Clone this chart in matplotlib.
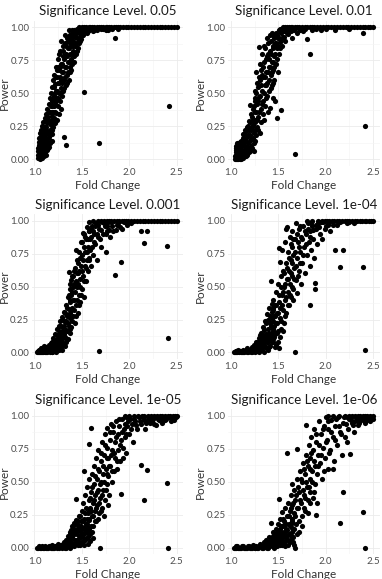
import numpy as np
import matplotlib.pyplot as plt

# power of the test vs fold change, one panel per significance level
levels = ["0.05", "0.01", "0.001", "1e-04", "1e-05", "1e-06"]

fc_05 = [1.04, 1.04, 1.05, 1.05, 1.05, 1.06, 1.06, 1.06, 1.07, 1.07, 1.07, 1.07, 1.08, 1.08, 1.08, 1.08,
         1.09, 1.09, 1.09, 1.09, 1.10, 1.10, 1.10, 1.10, 1.11, 1.11, 1.11, 1.12, 1.12, 1.12, 1.12, 1.13,
         1.13, 1.13, 1.13, 1.14, 1.14, 1.14, 1.15, 1.15, 1.15, 1.15, 1.16, 1.16, 1.16, 1.17, 1.17, 1.17,
         1.18, 1.18, 1.18, 1.19, 1.19, 1.19, 1.20, 1.20, 1.20, 1.21, 1.21, 1.21, 1.22, 1.22, 1.22, 1.23,
         1.23, 1.23, 1.24, 1.24, 1.24, 1.25, 1.25, 1.25, 1.26, 1.26, 1.26, 1.27, 1.27, 1.27, 1.28, 1.28,
         1.28, 1.29, 1.29, 1.30, 1.30, 1.30, 1.31, 1.31, 1.32, 1.32, 1.33, 1.33, 1.33, 1.34, 1.34, 1.35,
         1.35, 1.36, 1.36, 1.37, 1.37, 1.38, 1.38, 1.39, 1.39, 1.40, 1.40, 1.41, 1.41, 1.42, 1.42, 1.43,
         1.43, 1.44, 1.44, 1.45, 1.45, 1.46, 1.47, 1.47, 1.48, 1.49, 1.50, 1.51, 1.52, 1.53, 1.55, 1.58,
         1.60, 1.62, 1.66, 1.68, 1.72, 1.78, 1.85, 1.88, 2.42]
pw_05 = [0.01, 0.06, 0.02, 0.09, 0.13, 0.00, 0.05, 0.16, 0.03, 0.10, 0.19, 0.22, 0.01, 0.07, 0.13, 0.25,
         0.04, 0.10, 0.16, 0.28, 0.02, 0.08, 0.14, 0.21, 0.05, 0.18, 0.31, 0.03, 0.11, 0.24, 0.34, 0.07,
         0.15, 0.27, 0.38, 0.12, 0.20, 0.32, 0.09, 0.17, 0.29, 0.42, 0.22, 0.36, 0.46, 0.14, 0.26, 0.50,
         0.19, 0.33, 0.44, 0.28, 0.40, 0.55, 0.24, 0.36, 0.60, 0.31, 0.48, 0.64, 0.27, 0.42, 0.57, 0.35,
         0.52, 0.70, 0.30, 0.46, 0.62, 0.40, 0.58, 0.76, 0.34, 0.50, 0.68, 0.44, 0.62, 0.82, 0.38, 0.54,
         0.72, 0.48, 0.66, 0.52, 0.78, 0.86, 0.17, 0.60, 0.70, 0.88, 0.11, 0.56, 0.80, 0.64, 0.92, 0.74,
         0.84, 0.60, 0.90, 0.70, 0.80, 0.66, 0.94, 0.76, 0.86, 0.72, 0.96, 0.82, 0.90, 0.78, 0.98, 0.86,
         0.93, 0.80, 0.96, 0.88, 0.99, 0.84, 0.92, 0.98, 0.90, 0.96, 0.94, 0.99, 0.51, 0.97, 0.96, 0.98,
         0.99, 0.97, 0.98, 0.12, 0.99, 0.98, 0.92, 0.99, 0.40]
more_05 = [(1.04, 0.03), (1.04, 0.08), (1.05, 0.11), (1.05, 0.16), (1.06, 0.03), (1.06, 0.12), (1.06, 0.20),
           (1.07, 0.06), (1.07, 0.14), (1.08, 0.04), (1.08, 0.10), (1.08, 0.17), (1.09, 0.07), (1.09, 0.20),
           (1.09, 0.24), (1.10, 0.05), (1.10, 0.12), (1.10, 0.18), (1.11, 0.08), (1.11, 0.14), (1.11, 0.24),
           (1.12, 0.15), (1.12, 0.30), (1.13, 0.12), (1.13, 0.21), (1.14, 0.08), (1.14, 0.28), (1.15, 0.20),
           (1.15, 0.36), (1.16, 0.12), (1.16, 0.28), (1.17, 0.20), (1.17, 0.40), (1.18, 0.14), (1.18, 0.30),
           (1.19, 0.22), (1.19, 0.36), (1.20, 0.46), (1.20, 0.30), (1.21, 0.40), (1.21, 0.55), (1.22, 0.36),
           (1.22, 0.50), (1.23, 0.44), (1.23, 0.62), (1.24, 0.52), (1.24, 0.68), (1.25, 0.46), (1.25, 0.70),
           (1.26, 0.58), (1.26, 0.80), (1.27, 0.50), (1.27, 0.70), (1.28, 0.60), (1.28, 0.90), (1.29, 0.58),
           (1.29, 0.72), (1.30, 0.66), (1.30, 0.82), (1.31, 0.54), (1.31, 0.76), (1.32, 0.62), (1.32, 0.94),
           (1.33, 0.70), (1.33, 0.86), (1.34, 0.78), (1.34, 0.58), (1.35, 0.66), (1.35, 0.90), (1.36, 0.84),
           (1.36, 0.98), (1.37, 0.74), (1.37, 0.94), (1.38, 0.88), (1.39, 0.92), (1.39, 0.68), (1.40, 0.80),
           (1.40, 0.98), (1.41, 0.86), (1.42, 0.94), (1.42, 0.74), (1.43, 0.88), (1.44, 0.96), (1.45, 0.82),
           (1.45, 0.92), (1.46, 0.98), (1.47, 0.88), (1.48, 0.95), (1.49, 0.91), (1.50, 0.98), (1.51, 0.94),
           (1.52, 0.97), (1.54, 0.99), (1.56, 0.97), (1.59, 0.99), (1.63, 0.98), (1.70, 0.99), (1.75, 0.98),
           (1.82, 0.99)]
sat_05 = [1.47, 1.50, 1.52, 1.54, 1.57, 1.59, 1.61, 1.63, 1.66, 1.68, 1.70, 1.72, 1.75, 1.77, 1.79, 1.81,
          1.84, 1.86, 1.88, 1.90, 1.93, 1.96, 1.99, 2.02, 2.05, 2.08, 2.11, 2.14, 2.17, 2.20, 2.23, 2.26,
          2.29, 2.32, 2.35, 2.38, 2.41, 2.44, 2.47, 2.50]

fc_01 = [1.04, 1.05, 1.05, 1.06, 1.06, 1.07, 1.07, 1.08, 1.08, 1.09, 1.09, 1.10, 1.10, 1.11, 1.11, 1.12,
         1.12, 1.13, 1.13, 1.14, 1.14, 1.15, 1.15, 1.16, 1.16, 1.17, 1.17, 1.18, 1.18, 1.19, 1.19, 1.20,
         1.20, 1.21, 1.21, 1.22, 1.22, 1.23, 1.23, 1.24, 1.24, 1.25, 1.25, 1.26, 1.26, 1.27, 1.27, 1.28,
         1.28, 1.29, 1.29, 1.30, 1.30, 1.31, 1.31, 1.32, 1.32, 1.33, 1.33, 1.34, 1.34, 1.35, 1.35, 1.36,
         1.36, 1.37, 1.37, 1.38, 1.38, 1.39, 1.39, 1.40, 1.40, 1.41, 1.41, 1.42, 1.42, 1.43, 1.43, 1.44,
         1.44, 1.45, 1.45, 1.46, 1.46, 1.47, 1.47, 1.48, 1.48, 1.49, 1.49, 1.50, 1.50, 1.51, 1.51, 1.52,
         1.53, 1.53, 1.54, 1.55, 1.55, 1.56, 1.57, 1.58, 1.60, 1.62, 1.64, 1.66, 1.68, 1.70, 1.73, 1.76,
         1.80, 1.84, 1.86, 1.90, 1.95, 2.00, 2.10, 2.25, 2.39, 2.41]
pw_01 = [0.00, 0.02, 0.05, 0.01, 0.07, 0.00, 0.04, 0.09, 0.02, 0.06, 0.12, 0.00, 0.08, 0.03, 0.14, 0.10,
         0.05, 0.16, 0.01, 0.11, 0.19, 0.06, 0.14, 0.21, 0.02, 0.09, 0.17, 0.25, 0.12, 0.05, 0.29, 0.18,
         0.41, 0.22, 0.10, 0.32, 0.15, 0.26, 0.38, 0.20, 0.06, 0.44, 0.30, 0.14, 0.36, 0.50, 0.66, 0.24,
         0.42, 0.55, 0.32, 0.47, 0.85, 0.60, 0.20, 0.38, 0.68, 0.52, 0.80, 0.44, 0.62, 0.74, 0.30, 0.56,
         0.84, 0.66, 0.46, 0.78, 0.58, 0.88, 0.36, 0.70, 0.52, 0.39, 0.82, 0.64, 0.90, 0.74, 0.56, 0.86,
         0.46, 0.68, 0.94, 0.78, 0.60, 0.44, 0.88, 0.72, 0.96, 0.31, 0.84, 0.66, 0.92, 0.98, 0.80, 0.89,
         0.37, 0.96, 0.86, 0.99, 0.93, 0.97, 0.90, 0.99, 0.95, 0.98, 0.92, 0.99, 0.04, 0.96, 0.98, 0.97,
         0.91, 0.80, 0.98, 0.99, 0.98, 0.99, 0.98, 0.99, 0.96, 0.25]
more_01 = [(1.04, 0.02), (1.05, 0.00), (1.05, 0.08), (1.06, 0.03), (1.06, 0.10), (1.07, 0.06), (1.07, 0.12),
           (1.08, 0.00), (1.08, 0.05), (1.09, 0.02), (1.09, 0.09), (1.10, 0.04), (1.10, 0.13), (1.11, 0.00),
           (1.11, 0.07), (1.12, 0.02), (1.12, 0.12), (1.13, 0.06), (1.13, 0.19), (1.14, 0.03), (1.14, 0.14),
           (1.15, 0.09), (1.15, 0.22), (1.16, 0.06), (1.16, 0.14), (1.17, 0.03), (1.17, 0.24), (1.18, 0.08),
           (1.18, 0.18), (1.19, 0.13), (1.19, 0.22), (1.20, 0.06), (1.20, 0.28), (1.21, 0.15), (1.21, 0.34),
           (1.22, 0.08), (1.22, 0.24), (1.23, 0.16), (1.23, 0.30), (1.24, 0.12), (1.24, 0.40), (1.25, 0.22),
           (1.25, 0.52), (1.26, 0.28), (1.26, 0.46), (1.27, 0.18), (1.27, 0.36), (1.28, 0.30), (1.28, 0.58),
           (1.29, 0.22), (1.29, 0.44), (1.30, 0.36), (1.30, 0.62), (1.31, 0.48), (1.31, 0.72), (1.32, 0.28),
           (1.32, 0.56), (1.33, 0.42), (1.33, 0.64), (1.34, 0.70), (1.34, 0.34), (1.35, 0.50), (1.35, 0.86),
           (1.36, 0.62), (1.36, 0.40), (1.37, 0.76), (1.37, 0.56), (1.38, 0.48), (1.38, 0.92), (1.39, 0.66),
           (1.39, 0.80), (1.40, 0.60), (1.40, 0.76), (1.41, 0.70), (1.41, 0.94), (1.42, 0.54), (1.42, 0.80),
           (1.43, 0.66), (1.43, 0.96), (1.44, 0.74), (1.45, 0.58), (1.45, 0.84), (1.46, 0.92), (1.46, 0.70),
           (1.47, 0.80), (1.48, 0.88), (1.49, 0.94), (1.49, 0.76), (1.50, 0.86), (1.51, 0.92), (1.52, 0.99),
           (1.52, 0.84), (1.53, 0.91), (1.54, 0.97), (1.56, 0.93), (1.57, 0.99), (1.59, 0.96), (1.61, 0.99),
           (1.63, 0.97), (1.67, 0.98), (1.72, 0.99), (1.78, 0.99)]
sat_01 = [1.55, 1.57, 1.59, 1.61, 1.63, 1.65, 1.68, 1.70, 1.72, 1.75, 1.78, 1.80, 1.83, 1.86, 1.88, 1.91,
          1.94, 1.97, 2.00, 2.03, 2.06, 2.09, 2.12, 2.15, 2.18, 2.21, 2.24, 2.27, 2.30, 2.33, 2.36, 2.39,
          2.42, 2.45, 2.47, 2.50]

fc_001 = [1.03, 1.04, 1.05, 1.06, 1.07, 1.08, 1.08, 1.09, 1.10, 1.11, 1.12, 1.12, 1.13, 1.14, 1.15, 1.15,
          1.16, 1.17, 1.18, 1.18, 1.19, 1.20, 1.20, 1.21, 1.22, 1.22, 1.23, 1.23, 1.24, 1.24, 1.25, 1.25,
          1.26, 1.26, 1.27, 1.27, 1.28, 1.28, 1.29, 1.29, 1.30, 1.30, 1.31, 1.31, 1.32, 1.32, 1.33, 1.33,
          1.34, 1.34, 1.35, 1.35, 1.36, 1.36, 1.37, 1.37, 1.38, 1.38, 1.39, 1.39, 1.40, 1.40, 1.41, 1.41,
          1.42, 1.42, 1.43, 1.43, 1.44, 1.44, 1.45, 1.45, 1.46, 1.46, 1.47, 1.47, 1.48, 1.48, 1.49, 1.49,
          1.50, 1.50, 1.51, 1.51, 1.52, 1.52, 1.53, 1.53, 1.54, 1.55, 1.55, 1.56, 1.56, 1.57, 1.58, 1.58,
          1.59, 1.60, 1.60, 1.61, 1.62, 1.63, 1.64, 1.65, 1.66, 1.67, 1.68, 1.68, 1.70, 1.71, 1.72, 1.74,
          1.75, 1.76, 1.78, 1.80, 1.82, 1.85, 1.86, 1.88, 1.91, 1.92, 1.96, 2.02, 2.12, 2.15, 2.19, 2.40,
          2.41]
pw_001 = [0.00, 0.01, 0.00, 0.02, 0.00, 0.01, 0.03, 0.00, 0.02, 0.00, 0.04, 0.01, 0.00, 0.03, 0.06, 0.01,
          0.00, 0.04, 0.08, 0.02, 0.00, 0.05, 0.11, 0.02, 0.08, 0.14, 0.04, 0.00, 0.10, 0.18, 0.06, 0.13,
          0.02, 0.20, 0.09, 0.24, 0.15, 0.04, 0.11, 0.27, 0.19, 0.07, 0.31, 0.14, 0.23, 0.05, 0.36, 0.17,
          0.28, 0.10, 0.42, 0.22, 0.61, 0.33, 0.15, 0.48, 0.26, 0.40, 0.55, 0.19, 0.34, 0.46, 0.28, 0.58,
          0.40, 0.52, 0.22, 0.64, 0.78, 0.36, 0.50, 0.70, 0.30, 0.60, 0.44, 0.76, 0.56, 0.38, 0.66, 0.84,
          0.48, 0.74, 0.91, 0.58, 0.42, 0.80, 0.66, 0.88, 0.54, 0.76, 0.95, 0.62, 0.86, 0.70, 0.99, 0.92,
          0.78, 0.66, 0.88, 0.96, 0.74, 0.90, 0.82, 0.98, 0.70, 0.88, 0.01, 0.94, 0.80, 0.99, 0.90, 0.96,
          0.76, 0.92, 0.99, 0.88, 0.96, 0.59, 0.93, 0.98, 0.69, 0.94, 0.99, 0.98, 0.92, 0.83, 0.92, 0.81,
          0.11]
more_001 = [(1.04, 0.00), (1.05, 0.02), (1.06, 0.00), (1.07, 0.03), (1.08, 0.00), (1.09, 0.02), (1.10, 0.05),
            (1.11, 0.02), (1.12, 0.00), (1.13, 0.03), (1.14, 0.01), (1.15, 0.04), (1.16, 0.02), (1.17, 0.07),
            (1.18, 0.00), (1.19, 0.04), (1.20, 0.08), (1.21, 0.01), (1.21, 0.06), (1.22, 0.03), (1.23, 0.09),
            (1.24, 0.02), (1.24, 0.13), (1.25, 0.04), (1.26, 0.09), (1.26, 0.16), (1.27, 0.05), (1.27, 0.12),
            (1.28, 0.08), (1.28, 0.20), (1.29, 0.02), (1.29, 0.16), (1.30, 0.11), (1.30, 0.25), (1.31, 0.06),
            (1.31, 0.20), (1.32, 0.12), (1.32, 0.30), (1.33, 0.08), (1.33, 0.24), (1.34, 0.16), (1.34, 0.34),
            (1.35, 0.10), (1.35, 0.28), (1.36, 0.20), (1.36, 0.44), (1.37, 0.30), (1.37, 0.38), (1.38, 0.18),
            (1.38, 0.52), (1.39, 0.32), (1.39, 0.44), (1.40, 0.24), (1.40, 0.58), (1.41, 0.40), (1.41, 0.50),
            (1.42, 0.32), (1.42, 0.62), (1.43, 0.46), (1.44, 0.54), (1.44, 0.28), (1.45, 0.40), (1.45, 0.60),
            (1.46, 0.52), (1.46, 0.68), (1.47, 0.36), (1.47, 0.62), (1.48, 0.50), (1.48, 0.72), (1.49, 0.44),
            (1.50, 0.62), (1.50, 0.84), (1.51, 0.70), (1.52, 0.54), (1.52, 0.90), (1.53, 0.76), (1.54, 0.64),
            (1.54, 0.86), (1.55, 0.70), (1.56, 0.80), (1.57, 0.92), (1.58, 0.72), (1.59, 0.86), (1.60, 0.94),
            (1.61, 0.80), (1.62, 0.92), (1.63, 0.84), (1.64, 0.96), (1.66, 0.90), (1.67, 0.97), (1.69, 0.86),
            (1.70, 0.93), (1.73, 0.98), (1.75, 0.90), (1.77, 0.96), (1.79, 0.93), (1.81, 0.99), (1.83, 0.92),
            (1.87, 0.97), (1.90, 0.95), (1.94, 0.99), (1.98, 0.97)]
sat_001 = [1.62, 1.67, 1.70, 1.73, 1.76, 1.79, 1.81, 1.84, 1.87, 1.89, 1.92, 1.94, 1.97, 1.99, 2.02, 2.05,
           2.08, 2.11, 2.14, 2.17, 2.20, 2.23, 2.26, 2.29, 2.32, 2.35, 2.38, 2.41, 2.44, 2.47, 2.50]

fc_1e4 = [1.03, 1.05, 1.06, 1.08, 1.09, 1.10, 1.12, 1.13, 1.14, 1.16, 1.17, 1.18, 1.20, 1.21, 1.22, 1.23,
          1.24, 1.25, 1.26, 1.27, 1.28, 1.29, 1.30, 1.30, 1.31, 1.32, 1.32, 1.33, 1.34, 1.34, 1.35, 1.35,
          1.36, 1.36, 1.37, 1.38, 1.38, 1.39, 1.39, 1.40, 1.40, 1.41, 1.41, 1.42, 1.42, 1.43, 1.43, 1.44,
          1.44, 1.45, 1.45, 1.46, 1.46, 1.47, 1.47, 1.48, 1.48, 1.49, 1.49, 1.50, 1.50, 1.51, 1.51, 1.52,
          1.52, 1.53, 1.53, 1.54, 1.54, 1.55, 1.55, 1.56, 1.56, 1.57, 1.57, 1.58, 1.58, 1.59, 1.59, 1.60,
          1.60, 1.61, 1.61, 1.62, 1.62, 1.63, 1.63, 1.64, 1.65, 1.65, 1.66, 1.66, 1.67, 1.68, 1.68, 1.69,
          1.69, 1.70, 1.70, 1.71, 1.72, 1.72, 1.73, 1.74, 1.74, 1.75, 1.76, 1.77, 1.78, 1.79, 1.80, 1.81,
          1.82, 1.83, 1.84, 1.84, 1.85, 1.86, 1.87, 1.88, 1.89, 1.89, 1.90, 1.91, 1.92, 1.94, 1.96, 1.97,
          1.99, 2.02, 2.05, 2.10, 2.12, 2.15, 2.18, 2.22, 2.39, 2.41]
pw_1e4 = [0.00, 0.01, 0.00, 0.02, 0.00, 0.01, 0.00, 0.02, 0.00, 0.01, 0.03, 0.00, 0.02, 0.00, 0.04, 0.01,
          0.06, 0.00, 0.03, 0.08, 0.01, 0.05, 0.11, 0.00, 0.03, 0.08, 0.15, 0.02, 0.06, 0.19, 0.11, 0.00,
          0.24, 0.04, 0.14, 0.08, 0.29, 0.18, 0.02, 0.34, 0.10, 0.22, 0.05, 0.54, 0.14, 0.37, 0.26, 0.08,
          0.32, 0.18, 0.40, 0.12, 0.28, 0.36, 0.04, 0.22, 0.46, 0.15, 0.30, 0.52, 0.08, 0.03, 0.38, 0.26,
          0.69, 0.58, 0.18, 0.44, 0.78, 0.32, 0.62, 0.50, 0.22, 0.84, 0.40, 0.68, 0.30, 0.56, 0.95, 0.46,
          0.76, 0.36, 0.62, 0.88, 0.52, 0.70, 0.42, 0.80, 0.58, 0.92, 0.48, 0.74, 0.64, 0.00, 0.86, 0.55,
          0.98, 0.72, 0.45, 0.84, 0.62, 0.94, 0.76, 0.52, 0.88, 0.68, 0.96, 0.80, 0.60, 0.90, 0.74, 0.98,
          0.84, 0.66, 0.36, 0.92, 0.78, 0.96, 0.86, 0.72, 0.48, 0.53, 0.94, 0.82, 0.98, 0.90, 0.86, 0.99,
          0.94, 0.97, 0.92, 0.78, 0.97, 0.65, 0.78, 0.98, 0.65, 0.02]
more_1e4 = [(1.04, 0.00), (1.06, 0.01), (1.07, 0.00), (1.09, 0.01), (1.11, 0.00), (1.13, 0.00), (1.15, 0.01),
            (1.17, 0.00), (1.19, 0.01), (1.21, 0.02), (1.22, 0.00), (1.24, 0.02), (1.25, 0.04), (1.26, 0.01),
            (1.27, 0.05), (1.28, 0.02), (1.29, 0.08), (1.30, 0.04), (1.31, 0.06), (1.31, 0.13), (1.32, 0.02),
            (1.33, 0.10), (1.33, 0.05), (1.34, 0.13), (1.35, 0.07), (1.35, 0.17), (1.36, 0.10), (1.37, 0.04),
            (1.37, 0.22), (1.38, 0.12), (1.39, 0.08), (1.39, 0.25), (1.40, 0.15), (1.40, 0.04), (1.41, 0.28),
            (1.41, 0.12), (1.42, 0.20), (1.43, 0.08), (1.43, 0.31), (1.44, 0.16), (1.44, 0.24), (1.45, 0.10),
            (1.45, 0.34), (1.46, 0.20), (1.47, 0.14), (1.47, 0.28), (1.48, 0.06), (1.48, 0.36), (1.49, 0.22),
            (1.50, 0.30), (1.50, 0.16), (1.51, 0.79), (1.51, 0.44), (1.52, 0.12), (1.52, 0.34), (1.53, 0.24),
            (1.53, 0.50), (1.54, 0.36), (1.55, 0.46), (1.55, 0.16), (1.56, 0.60), (1.57, 0.28), (1.57, 0.52),
            (1.58, 0.94), (1.58, 0.42), (1.59, 0.64), (1.60, 0.36), (1.60, 0.56), (1.61, 0.72), (1.62, 0.44),
            (1.63, 0.60), (1.63, 0.82), (1.64, 0.50), (1.65, 0.68), (1.66, 0.40), (1.66, 0.86), (1.67, 0.56),
            (1.68, 0.76), (1.69, 0.66), (1.70, 0.90), (1.71, 0.58), (1.72, 0.80), (1.73, 0.68), (1.73, 0.96),
            (1.75, 0.86), (1.76, 0.74), (1.78, 0.92), (1.79, 0.82), (1.81, 0.94), (1.83, 0.88), (1.85, 0.98),
            (1.87, 0.93), (1.90, 0.97), (1.93, 0.95), (1.95, 0.99), (2.00, 0.96), (2.04, 0.99), (2.08, 0.97),
            (2.15, 0.99), (2.25, 0.99), (2.30, 0.98)]
sat_1e4 = [1.80, 1.86, 1.92, 1.96, 1.99, 2.01, 2.04, 2.07, 2.09, 2.12, 2.14, 2.17, 2.20, 2.23, 2.25, 2.28,
           2.31, 2.33, 2.36, 2.38, 2.41, 2.43, 2.46, 2.48, 2.50]

fc_1e5 = [1.03, 1.05, 1.07, 1.09, 1.11, 1.13, 1.15, 1.17, 1.19, 1.21, 1.23, 1.25, 1.26, 1.28, 1.30, 1.31,
          1.32, 1.33, 1.34, 1.35, 1.36, 1.37, 1.38, 1.38, 1.39, 1.40, 1.40, 1.41, 1.42, 1.42, 1.43, 1.43,
          1.44, 1.44, 1.45, 1.45, 1.46, 1.47, 1.47, 1.48, 1.48, 1.49, 1.49, 1.50, 1.50, 1.51, 1.51, 1.52,
          1.52, 1.53, 1.53, 1.54, 1.54, 1.55, 1.55, 1.56, 1.56, 1.57, 1.57, 1.58, 1.58, 1.59, 1.59, 1.60,
          1.60, 1.61, 1.61, 1.62, 1.62, 1.63, 1.63, 1.64, 1.64, 1.65, 1.65, 1.66, 1.66, 1.67, 1.67, 1.68,
          1.68, 1.69, 1.69, 1.70, 1.70, 1.71, 1.71, 1.72, 1.72, 1.73, 1.74, 1.74, 1.75, 1.76, 1.76, 1.77,
          1.78, 1.78, 1.79, 1.80, 1.80, 1.81, 1.82, 1.82, 1.83, 1.84, 1.85, 1.85, 1.86, 1.87, 1.88, 1.88,
          1.89, 1.90, 1.91, 1.91, 1.92, 1.93, 1.94, 1.95, 1.96, 1.97, 1.98, 2.00, 2.01, 2.03, 2.04, 2.06,
          2.08, 2.10, 2.12, 2.12, 2.15, 2.15, 2.17, 2.19, 2.20, 2.22, 2.25, 2.28, 2.30, 2.33, 2.36, 2.40,
          2.41, 2.44]
pw_1e5 = [0.00, 0.01, 0.00, 0.00, 0.01, 0.00, 0.01, 0.00, 0.02, 0.00, 0.01, 0.03, 0.00, 0.02, 0.01, 0.04,
          0.00, 0.06, 0.02, 0.09, 0.01, 0.05, 0.12, 0.00, 0.07, 0.03, 0.16, 0.10, 0.01, 0.19, 0.06, 0.13,
          0.37, 0.21, 0.03, 0.10, 0.17, 0.07, 0.24, 0.13, 0.02, 0.20, 0.09, 0.28, 0.15, 0.05, 0.34, 0.58,
          0.22, 0.11, 0.40, 0.18, 0.30, 0.07, 0.46, 0.26, 0.14, 0.36, 0.21, 0.79, 0.52, 0.10, 0.30, 0.91,
          0.42, 0.24, 0.56, 0.16, 0.34, 0.48, 0.62, 0.28, 0.40, 0.20, 0.68, 0.52, 0.32, 0.44, 0.74, 0.26,
          0.58, 0.00, 0.38, 0.66, 0.50, 0.80, 0.30, 0.56, 0.44, 0.70, 0.36, 0.86, 0.60, 0.48, 0.76, 0.91,
          0.54, 0.68, 0.40, 0.82, 0.62, 0.94, 0.50, 0.74, 0.88, 0.58, 0.80, 0.68, 0.96, 0.60, 0.86, 0.74,
          0.92, 0.66, 0.41, 0.82, 0.98, 0.76, 0.90, 0.84, 0.99, 0.72, 0.92, 0.86, 0.98, 0.94, 0.80, 0.96,
          0.90, 0.99, 0.63, 0.94, 0.36, 0.97, 0.90, 0.59, 0.99, 0.95, 0.98, 0.93, 0.99, 0.96, 0.98, 0.49,
          0.00, 0.99]
more_1e5 = [(1.04, 0.00), (1.06, 0.00), (1.08, 0.01), (1.10, 0.00), (1.12, 0.00), (1.14, 0.00), (1.16, 0.01),
            (1.18, 0.00), (1.20, 0.00), (1.22, 0.01), (1.24, 0.00), (1.27, 0.01), (1.29, 0.00), (1.30, 0.03),
            (1.32, 0.02), (1.33, 0.00), (1.34, 0.05), (1.35, 0.02), (1.36, 0.07), (1.37, 0.01), (1.37, 0.10),
            (1.38, 0.04), (1.39, 0.13), (1.40, 0.08), (1.41, 0.02), (1.41, 0.15), (1.42, 0.10), (1.43, 0.04),
            (1.43, 0.18), (1.44, 0.12), (1.45, 0.06), (1.46, 0.20), (1.46, 0.02), (1.47, 0.14), (1.48, 0.08),
            (1.48, 0.24), (1.49, 0.16), (1.50, 0.04), (1.50, 0.10), (1.51, 0.20), (1.52, 0.14), (1.53, 0.06),
            (1.53, 0.26), (1.54, 0.12), (1.55, 0.22), (1.55, 0.18), (1.56, 0.08), (1.57, 0.28), (1.57, 0.14),
            (1.58, 0.22), (1.59, 0.38), (1.60, 0.16), (1.60, 0.28), (1.61, 0.46), (1.62, 0.24), (1.63, 0.36),
            (1.64, 0.20), (1.64, 0.54), (1.65, 0.30), (1.66, 0.42), (1.67, 0.22), (1.67, 0.60), (1.68, 0.34),
            (1.69, 0.48), (1.70, 0.28), (1.70, 0.72), (1.71, 0.40), (1.72, 0.62), (1.73, 0.50), (1.73, 0.24),
            (1.74, 0.78), (1.75, 0.44), (1.76, 0.56), (1.77, 0.68), (1.78, 0.32), (1.79, 0.62), (1.80, 0.88),
            (1.81, 0.70), (1.82, 0.58), (1.83, 0.92), (1.84, 0.72), (1.86, 0.84), (1.87, 0.66), (1.89, 0.98),
            (1.90, 0.78), (1.92, 0.88), (1.93, 0.68), (1.95, 0.94), (1.97, 0.86), (1.99, 0.96), (2.02, 0.90),
            (2.05, 0.98), (2.07, 0.93), (2.11, 0.96), (2.14, 0.99), (2.18, 0.95), (2.21, 0.98), (2.24, 0.96),
            (2.27, 0.99), (2.31, 0.97), (2.34, 0.99), (2.38, 0.97), (2.42, 0.99), (2.46, 0.98), (2.49, 0.99),
            (1.45, 0.14), (1.47, 0.04), (1.49, 0.12), (1.51, 0.08), (1.52, 0.02), (1.54, 0.16), (1.56, 0.03),
            (1.58, 0.10), (1.59, 0.05), (1.61, 0.12), (1.62, 0.07), (2.20, 0.97), (2.26, 0.94), (2.30, 0.98),
            (2.35, 0.95), (2.39, 0.98), (2.44, 0.96), (2.47, 0.97)]
sat_1e5 = [1.95, 2.00, 2.05, 2.09, 2.13, 2.16, 2.20, 2.23, 2.26, 2.29, 2.32, 2.35, 2.38, 2.41, 2.43, 2.46,
           2.48, 2.50]

fc_1e6 = [1.03, 1.05, 1.07, 1.09, 1.11, 1.13, 1.15, 1.17, 1.19, 1.21, 1.23, 1.25, 1.27, 1.29, 1.31, 1.32,
          1.34, 1.35, 1.36, 1.37, 1.38, 1.39, 1.40, 1.41, 1.42, 1.42, 1.43, 1.44, 1.45, 1.45, 1.46, 1.47,
          1.48, 1.48, 1.49, 1.50, 1.50, 1.51, 1.51, 1.52, 1.52, 1.53, 1.54, 1.54, 1.55, 1.56, 1.56, 1.57,
          1.57, 1.58, 1.59, 1.59, 1.60, 1.60, 1.61, 1.62, 1.62, 1.63, 1.64, 1.64, 1.65, 1.65, 1.66, 1.67,
          1.67, 1.68, 1.68, 1.69, 1.70, 1.70, 1.71, 1.72, 1.72, 1.73, 1.74, 1.75, 1.75, 1.76, 1.77, 1.78,
          1.78, 1.79, 1.79, 1.80, 1.81, 1.81, 1.82, 1.83, 1.84, 1.84, 1.85, 1.86, 1.87, 1.87, 1.88, 1.89,
          1.89, 1.90, 1.90, 1.91, 1.92, 1.93, 1.94, 1.95, 1.96, 1.97, 1.98, 1.99, 2.00, 2.01, 2.02, 2.03,
          2.05, 2.06, 2.08, 2.09, 2.10, 2.12, 2.13, 2.15, 2.15, 2.17, 2.18, 2.18, 2.20, 2.22, 2.24, 2.26,
          2.27, 2.29, 2.32, 2.35, 2.38, 2.39, 2.41, 2.42, 2.45]
pw_1e6 = [0.00, 0.00, 0.01, 0.00, 0.00, 0.01, 0.00, 0.00, 0.01, 0.00, 0.02, 0.00, 0.01, 0.00, 0.03, 0.01,
          0.00, 0.04, 0.02, 0.06, 0.00, 0.03, 0.08, 0.01, 0.19, 0.05, 0.02, 0.09, 0.04, 0.12, 0.00, 0.07,
          0.03, 0.14, 0.10, 0.05, 0.18, 0.37, 0.08, 0.02, 0.22, 0.12, 0.06, 0.27, 0.16, 0.03, 0.20, 0.10,
          0.30, 0.14, 0.72, 0.24, 0.06, 0.34, 0.18, 0.28, 0.10, 0.40, 0.22, 0.15, 0.48, 0.32, 0.08, 0.26,
          0.44, 0.00, 0.36, 0.18, 0.75, 0.52, 0.30, 0.42, 0.12, 0.58, 0.34, 0.24, 0.50, 0.64, 0.40, 0.28,
          0.56, 0.93, 0.70, 0.46, 0.36, 0.62, 0.78, 0.52, 0.42, 0.68, 0.84, 0.58, 0.38, 0.74, 0.90, 0.62,
          0.48, 0.25, 0.80, 0.56, 0.70, 0.96, 0.64, 0.86, 0.52, 0.76, 0.92, 0.68, 0.99, 0.82, 0.60, 0.90,
          0.74, 0.97, 0.84, 0.66, 0.92, 0.78, 0.99, 0.19, 0.88, 0.70, 0.42, 0.95, 0.84, 0.99, 0.90, 0.71,
          0.97, 0.93, 0.99, 0.95, 0.98, 0.27, 0.00, 0.96, 0.99]
more_1e6 = [(1.04, 0.00), (1.06, 0.01), (1.08, 0.00), (1.10, 0.00), (1.12, 0.01), (1.14, 0.00), (1.16, 0.00),
            (1.18, 0.01), (1.20, 0.00), (1.22, 0.00), (1.24, 0.01), (1.26, 0.00), (1.28, 0.00), (1.30, 0.01),
            (1.33, 0.00), (1.35, 0.01), (1.37, 0.02), (1.39, 0.00), (1.40, 0.04), (1.41, 0.02), (1.43, 0.05),
            (1.44, 0.01), (1.45, 0.07), (1.46, 0.03), (1.47, 0.10), (1.48, 0.05), (1.49, 0.01), (1.49, 0.08),
            (1.50, 0.12), (1.51, 0.03), (1.52, 0.10), (1.53, 0.06), (1.53, 0.16), (1.54, 0.02), (1.55, 0.09),
            (1.55, 0.22), (1.56, 0.12), (1.57, 0.05), (1.58, 0.18), (1.58, 0.08), (1.59, 0.13), (1.60, 0.02),
            (1.61, 0.10), (1.61, 0.24), (1.62, 0.16), (1.63, 0.06), (1.63, 0.30), (1.64, 0.12), (1.65, 0.20),
            (1.66, 0.04), (1.66, 0.34), (1.67, 0.14), (1.68, 0.24), (1.69, 0.40), (1.70, 0.10), (1.70, 0.30),
            (1.71, 0.46), (1.72, 0.20), (1.73, 0.36), (1.74, 0.52), (1.75, 0.16), (1.76, 0.44), (1.77, 0.30),
            (1.77, 0.60), (1.78, 0.38), (1.79, 0.50), (1.80, 0.66), (1.81, 0.26), (1.82, 0.46), (1.83, 0.60),
            (1.84, 0.34), (1.85, 0.72), (1.86, 0.50), (1.88, 0.42), (1.88, 0.66), (1.90, 0.86), (1.91, 0.34),
            (1.92, 0.62), (1.93, 0.78), (1.95, 0.70), (1.97, 0.90), (1.98, 0.58), (2.00, 0.80), (2.02, 0.96),
            (2.04, 0.72), (2.06, 0.88), (2.08, 0.60), (2.10, 0.82), (2.11, 0.98), (2.14, 0.92), (2.16, 0.86),
            (2.19, 0.99), (2.21, 0.94), (2.23, 0.80), (2.25, 0.98), (2.28, 0.95), (2.30, 0.88), (2.33, 0.97),
            (2.36, 0.99), (2.40, 0.97), (2.43, 0.99), (2.46, 0.98), (2.48, 0.99),
            (1.50, 0.06), (1.52, 0.14), (1.54, 0.08), (1.56, 0.17), (1.57, 0.01), (1.59, 0.09), (1.62, 0.04),
            (1.64, 0.19), (1.65, 0.08), (1.67, 0.02), (2.27, 0.99), (2.31, 0.96), (2.34, 0.93), (2.37, 0.97),
            (2.41, 0.95), (2.44, 0.97), (2.47, 0.96), (2.50, 0.98)]
sat_1e6 = [2.02, 2.08, 2.14, 2.20, 2.25, 2.28, 2.31, 2.34, 2.36, 2.39, 2.42, 2.44, 2.47, 2.50]

panels = [(fc_05, pw_05, more_05, sat_05), (fc_01, pw_01, more_01, sat_01),
          (fc_001, pw_001, more_001, sat_001), (fc_1e4, pw_1e4, more_1e4, sat_1e4),
          (fc_1e5, pw_1e5, more_1e5, sat_1e5), (fc_1e6, pw_1e6, more_1e6, sat_1e6)]

plt.rcParams['font.family'] = ['Lato', 'DejaVu Sans']

fig = plt.figure(figsize=(3.82, 5.79), dpi=100)

lefts = [0.084, 0.598]
bottoms = [0.714, 0.380, 0.043]
# the y label is anchored by its right side
label_x = [-0.145, -0.150]

for i, (fc, pw, more, sat) in enumerate(panels):
    row, col = divmod(i, 2)
    ax = fig.add_axes([lefts[col], bottoms[row], 0.396, 0.250])
    mx, my = np.array(more).T
    # points sitting on the power = 1 ceiling
    x = np.concatenate([fc, mx, sat])
    y = np.concatenate([pw, my, np.ones(len(sat))])
    ax.scatter(x, y, s=14, color="black", linewidths=0, zorder=3)

    ax.set_xlim(0.975, 2.57)
    ax.set_ylim(-0.05, 1.05)
    ax.set_xticks([1.0, 1.5, 2.0, 2.5])
    ax.set_yticks([0.0, 0.25, 0.5, 0.75, 1.0])
    ax.set_xticklabels(["1.0", "1.5", "2.0", "2.5"])
    ax.set_yticklabels(["0.00", "0.25", "0.50", "0.75", "1.00"])
    ax.set_xticks([1.25, 1.75, 2.25], minor=True)
    ax.set_yticks([0.125, 0.375, 0.625, 0.875], minor=True)
    ax.grid(which="major", color="#ebebeb", linewidth=0.6)
    ax.grid(which="minor", color="#f4f4f4", linewidth=0.4)
    ax.set_axisbelow(True)
    for s in ax.spines.values():
        s.set_visible(False)
    ax.tick_params(which="both", length=0, labelsize=7, labelcolor="#4d4d4d", pad=2)

    ax.set_title("Significance Level. " + levels[i], fontsize=9.6, color="#1a1a1a", pad=4)
    ax.set_xlabel("Fold Change", fontsize=8.5, color="#333333", labelpad=2)
    ax.set_ylabel("Power", fontsize=8.5, color="#333333")
    ax.yaxis.set_label_coords(label_x[col], 0.5)

fig.savefig("out.png", dpi=100)
